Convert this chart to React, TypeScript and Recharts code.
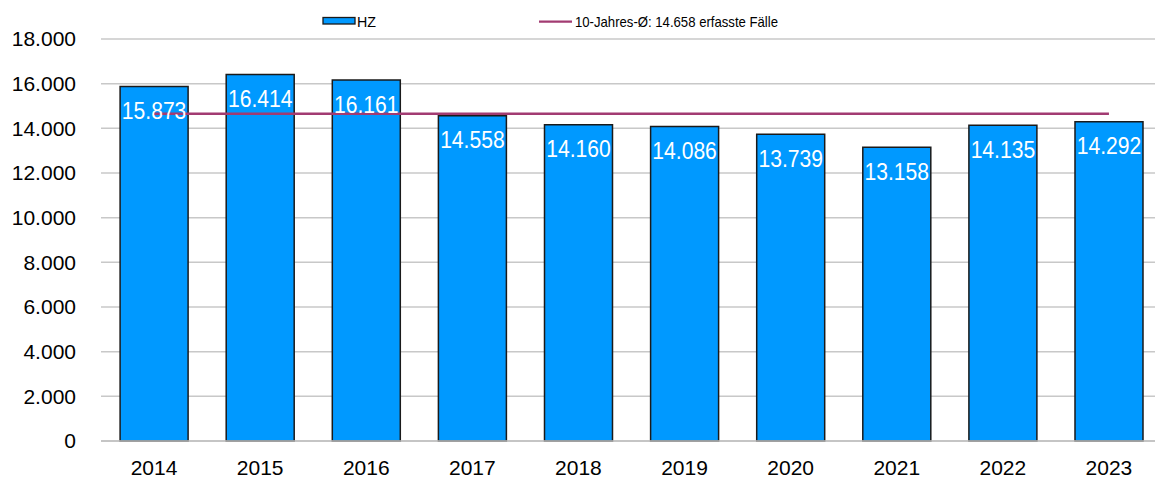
import React from 'react';
import { ComposedChart, Bar, Line, XAxis, YAxis, CartesianGrid, Legend, LabelList } from 'recharts';

const years = ['2014', '2015', '2016', '2017', '2018', '2019', '2020', '2021', '2022', '2023'];
const hzValues = [15873, 16414, 16161, 14558, 14160, 14086, 13739, 13158, 14135, 14292];
const avgValue = 14658;
const yTicks = [0, 2000, 4000, 6000, 8000, 10000, 12000, 14000, 16000, 18000];
const barName = 'HZ';
const avgName = '10-Jahres-Ø: 14.658 erfasste Fälle';

const data = years.map((y, i) => ({ year: y, hz: hzValues[i], avg: avgValue }));

const fmt = (v: number) => String(Math.round(v)).replace(/\B(?=(\d{3})+(?!\d))/g, '.');

const FONT = '"Liberation Sans", Arial, sans-serif';
const BAR_COLOR = '#0099FF';
const LINE_COLOR = '#A23B72';

const renderLabel = (props: any) => {
  const { x, y, width, value } = props;
  return (
    <text
      x={Number(x) + Number(width) / 2}
      y={Number(y) + 32.5}
      textAnchor="middle"
      fill="#ffffff"
      fontSize={23}
      fontFamily={FONT}
      textLength={64.5}
      lengthAdjust="spacingAndGlyphs"
    >
      {fmt(Number(value))}
    </text>
  );
};

const renderLegend = () => (
  <svg width={1155} height={39} style={{ display: 'block' }}>
    <rect x={323} y={17.5} width={32} height={6.5} fill={BAR_COLOR} stroke="#1a1a1a" strokeWidth={1.3} />
    <text x={357} y={27.3} fontSize={15} fontFamily={FONT} fill="#000" textLength={19} lengthAdjust="spacingAndGlyphs">
      {barName}
    </text>
    <line x1={539} x2={572} y1={21.7} y2={21.7} stroke={LINE_COLOR} strokeWidth={2.2} />
    <text x={575} y={27.3} fontSize={15} fontFamily={FONT} fill="#000" textLength={203} lengthAdjust="spacingAndGlyphs">
      {avgName}
    </text>
  </svg>
);

export default function App() {
  return (
    <div style={{ position: 'absolute', left: 0, top: 0, width: 1155, height: 479, overflow: 'hidden', background: '#fff' }}>
      <ComposedChart
        width={1162}
        height={479}
        data={data}
        margin={{ top: 0, right: 0, bottom: 0, left: 0 }}
        barCategoryGap="18%"
      >
        <CartesianGrid vertical={false} stroke="#c8c8c8" strokeWidth={1.5} />
        <XAxis
          dataKey="year"
          height={38}
          tickLine={false}
          tickSize={0}
          tickMargin={19}
          axisLine={{ stroke: '#bfbfbf', strokeWidth: 1.5 }}
          tick={{ fill: '#000', fontSize: 21, fontFamily: FONT }}
          interval={0}
        />
        <YAxis
          width={101}
          domain={[0, 18000]}
          ticks={yTicks}
          tickFormatter={fmt}
          axisLine={false}
          tickLine={false}
          tickSize={0}
          tickMargin={25}
          tick={{ fill: '#000', fontSize: 21, fontFamily: FONT }}
          interval={0}
        />
        <Legend verticalAlign="top" content={renderLegend} wrapperStyle={{ position: 'absolute', top: 0, left: 0, width: 1155, height: 39 }} />
        <Bar dataKey="hz" name={barName} fill={BAR_COLOR} stroke="#1a1a1a" strokeWidth={1.5} isAnimationActive={false}>
          <LabelList dataKey="hz" content={renderLabel} />
        </Bar>
        <Line
          dataKey="avg"
          name={avgName}
          stroke={LINE_COLOR}
          strokeWidth={2.5}
          dot={false}
          activeDot={false}
          isAnimationActive={false}
        />
      </ComposedChart>
    </div>
  );
}
